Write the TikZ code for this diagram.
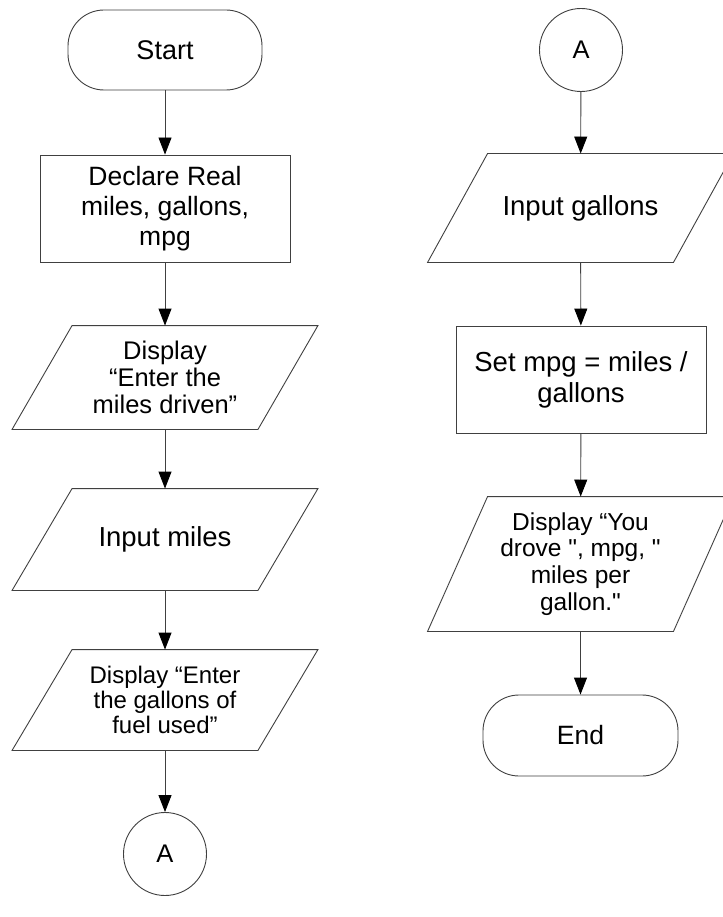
\documentclass[tikz,border=0pt]{standalone}
\usepackage{fontspec}
\setmainfont{Liberation Sans}
\usetikzlibrary{arrows.meta}
\begin{document}
\begin{tikzpicture}[x=1pt, y=-1pt, line width=0.9pt,
    term/.style={draw=black!75, rounded corners=36pt, minimum width=194pt, minimum height=80pt, inner sep=0pt},
    proc/.style={draw=black!75, minimum width=250pt, minimum height=107pt, inner sep=0pt, align=center},
    io/.style={minimum width=245pt, inner sep=0pt, align=center},
    conn/.style={draw=black!75, circle, minimum size=83pt, inner sep=0pt},
    arr/.style={draw=black!75, -{Triangle[length=17pt, width=13pt, color=black]}},
    txt/.style 2 args={font=\fontsize{#1}{#2}\selectfont}]

  % page
  \fill[white] (0,0) rectangle (722,917);
  \useasboundingbox (0,0) rectangle (722,917);

  % left column
  \node[term, txt={27}{31}] (start) at (165,50) {Start};
  \node[proc, txt={26.5}{30}] (declare) at (165,208.5) {Declare Real\\miles, gallons,\\mpg};
  \node[io, minimum height=103pt, txt={25.5}{27}] (disp1) at (165,377.5) {Display\\“Enter the\\miles driven”};
  \node[io, minimum height=101pt, txt={27.5}{31}] (inmiles) at (165,539.5) {Input miles};
  \node[io, minimum height=100pt, txt={24}{25}] (disp2) at (165,700) {Display “Enter\\the gallons of\\fuel used”};
  \node[conn, txt={25.5}{30}] (conA) at (165,854) {A};

  % right column
  \node[conn, txt={25.5}{30}] (conB) at (581,50) {A};
  \node[io, minimum height=108pt, txt={27.5}{31}] (ingal) at (580.5,208) {Input gallons};
  \node[proc, txt={27.5}{31}] (setmpg) at (581,379.5) {Set mpg = miles /\\gallons};
  \node[io, minimum height=134pt, txt={24.5}{26.7}] (dispout) at (580.5,564) {Display “You\\drove \textquotedbl, mpg, \textquotedbl\\ miles per\\gallon.\textquotedbl};
  \node[term, minimum width=195pt, minimum height=81pt, txt={26.5}{30}] (end) at (580.5,735.5) {End};

  % slanted outlines of the input/output boxes
  \foreach \n in {disp1, inmiles, disp2, ingal, dispout}
    \draw[draw=black!75] ([xshift=30pt]\n.north west) -- ([xshift=30pt]\n.north east)
      -- ([xshift=-30pt]\n.south east) -- ([xshift=-30pt]\n.south west) -- cycle;

  % flow
  \draw[arr] (start) -- (declare);
  \draw[arr] (declare) -- (disp1);
  \draw[arr] (disp1) -- (inmiles);
  \draw[arr] (inmiles) -- (disp2);
  \draw[arr] (disp2) -- (conA);
  \draw[arr] (conB) -- (ingal);
  \draw[arr] (ingal) -- (setmpg);
  \draw[arr] (setmpg) -- (dispout);
  \draw[arr] (dispout) -- (end);

\end{tikzpicture}
\end{document}
